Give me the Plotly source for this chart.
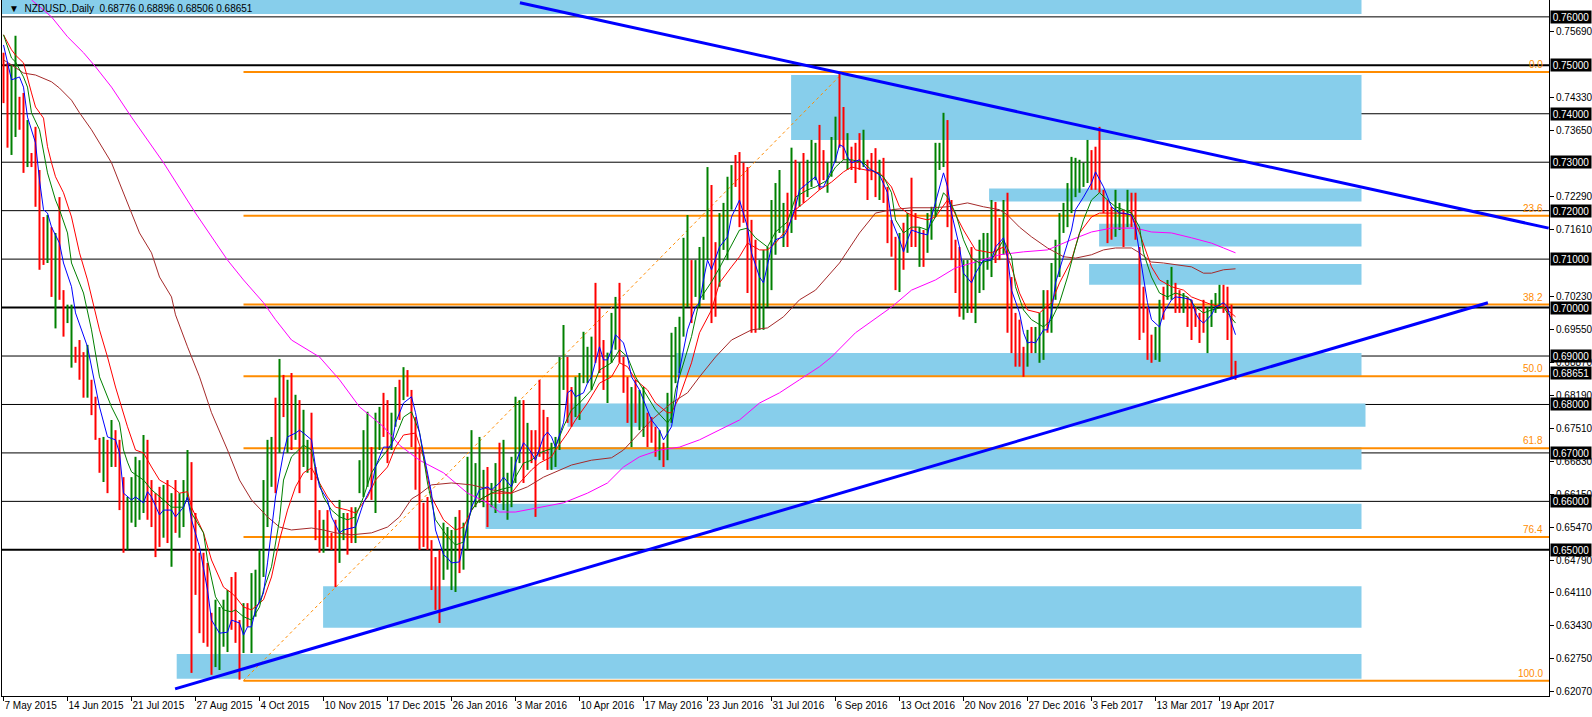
import plotly.graph_objects as go

# ---------------- data ----------------
date_labels = ["7 May 2015", "14 Jun 2015", "21 Jul 2015", "27 Aug 2015", "4 Oct 2015",
               "10 Nov 2015", "17 Dec 2015", "26 Jan 2016", "3 Mar 2016", "10 Apr 2016",
               "17 May 2016", "23 Jun 2016", "31 Jul 2016", "6 Sep 2016", "13 Oct 2016",
               "20 Nov 2016", "27 Dec 2016", "3 Feb 2017", "13 Mar 2017", "19 Apr 2017"]
bars_per_label = 16  # each plotted bar = 2 trading days

bar_high = [
    .7526, .7505, .7501, .7561, .7435, .7443, .7387, .7319, .7373, .7284,
    .7187, .7191, .7166, .7154, .7228, .7036, .7006, .7006, .6919, .6933,
    .6908, .6923, .6851, .6816, .6731, .6733, .6727, .6768, .6747, .6727,
    .6650, .6609, .6650, .6692, .6685, .6737, .6727, .6644, .6617, .6630,
    .6634, .6644, .6617, .6644, .6617, .6644, .6706, .6681, .6576, .6494,
    .6494, .6473, .6370, .6397, .6382, .6397, .6417, .6444, .6454, .6355,
    .6390, .6390, .6452, .6459, .6500, .6644, .6727, .6733, .6814, .6894,
    .6861, .6851, .6865, .6820, .6809, .6789, .6727, .6783, .6671, .6582,
    .6562, .6582, .6535, .6562, .6603, .6576, .6576, .6588, .6588, .6685,
    .6747, .6785, .6712, .6783, .6795, .6824, .6809, .6783, .6836, .6851,
    .6877, .6871, .6830, .6774, .6712, .6597, .6609, .6520, .6485, .6500,
    .6556, .6547, .6541, .6568, .6582, .6556, .6692, .6747, .6679, .6733,
    .6665, .6671, .6638, .6679, .6721, .6727, .6659, .6692, .6816, .6809,
    .6809, .6762, .6747, .6747, .6851, .6789, .6774, .6721, .6733, .6898,
    .6964, .6898, .6836, .6857, .6865, .6950, .6919, .6940, .7051, .7001,
    .6933, .6907, .6989, .7022, .7051, .6898, .6857, .6836, .6851, .6830,
    .6836, .6783, .6774, .6754, .6747, .6721, .6824, .6948, .6960, .6981,
    .7144, .7191, .7098, .7098, .7125, .7146, .7290, .7253, .7135, .7195,
    .7216, .7270, .7294, .7315, .7321, .7299, .7290, .7181, .7140, .7098,
    .7119, .7125, .7222, .7257, .7284, .7216, .7237, .7330, .7305, .7299,
    .7319, .7305, .7346, .7340, .7377, .7325, .7299, .7352, .7394, .7486,
    .7414, .7360, .7332, .7340, .7360, .7367, .7305, .7319, .7329, .7305,
    .7309, .7249, .7181, .7146, .7154, .7175, .7195, .7268, .7195, .7166,
    .7160, .7195, .7208, .7340, .7340, .7402, .7387, .7222, .7140, .7125,
    .7098, .7098, .7125, .7098, .7140, .7154, .7154, .7222, .7218, .7185,
    .7222, .7237, .7063, .6989, .6975, .6919, .6954, .6960, .6960, .6989,
    .7036, .7036, .7092, .7140, .7195, .7216, .7257, .7311, .7309, .7305,
    .7299, .7346, .7325, .7332, .7373, .7243, .7222, .7208, .7243, .7216,
    .7202, .7243, .7237, .7237, .7125, .7043, .7001, .6944, .6960, .7016,
    .7043, .7057, .7084, .7051, .7036, .7030, .7022, .7016, .7001, .6989,
    .7016, .7001, .7016, .7030, .7047, .7047, .7043, .7006, .6890]

bar_low = [
    .7422, .7330, .7315, .7352, .7367, .7278, .7290, .7290, .7208, .7078,
    .7088, .7092, .7022, .6957, .7016, .6940, .6968, .6876, .6886, .6851,
    .6814, .6814, .6778, .6727, .6659, .6640, .6617, .6671, .6671, .6582,
    .6494, .6500, .6556, .6547, .6562, .6576, .6562, .6547, .6485, .6506,
    .6525, .6514, .6465, .6535, .6525, .6547, .6603, .6246, .6407, .6328,
    .6308, .6300, .6242, .6258, .6252, .6300, .6289, .6335, .6308, .6232,
    .6287, .6341, .6287, .6362, .6390, .6444, .6547, .6630, .6617, .6700,
    .6774, .6700, .6706, .6727, .6617, .6671, .6659, .6644, .6520, .6494,
    .6494, .6506, .6500, .6423, .6473, .6520, .6490, .6514, .6514, .6617,
    .6609, .6630, .6603, .6576, .6706, .6733, .6679, .6706, .6754, .6768,
    .6809, .6816, .6712, .6624, .6500, .6506, .6500, .6417, .6376, .6349,
    .6438, .6459, .6417, .6413, .6452, .6459, .6500, .6582, .6588, .6597,
    .6588, .6547, .6588, .6576, .6597, .6582, .6562, .6588, .6638, .6679,
    .6638, .6665, .6679, .6568, .6692, .6685, .6665, .6665, .6671, .6706,
    .6830, .6762, .6754, .6774, .6768, .6844, .6844, .6830, .6886, .6865,
    .6830, .6803, .6886, .6913, .6886, .6824, .6762, .6712, .6762, .6747,
    .6733, .6712, .6721, .6692, .6685, .6671, .6685, .6762, .6844, .6865,
    .6940, .7001, .6968, .7022, .7001, .7016, .7098, .6968, .6981, .7043,
    .7119, .7098, .7202, .7249, .7166, .7175, .7030, .6948, .6948, .6954,
    .6954, .7001, .7036, .7109, .7154, .7125, .7125, .7154, .7181, .7208,
    .7216, .7228, .7249, .7263, .7243, .7263, .7237, .7270, .7299, .7330,
    .7305, .7284, .7284, .7257, .7284, .7290, .7222, .7263, .7228, .7222,
    .7216, .7133, .7105, .7036, .7032, .7078, .7113, .7125, .7125, .7084,
    .7084, .7113, .7140, .7187, .7284, .7290, .7166, .7098, .7030, .6981,
    .6975, .6989, .6989, .6968, .7030, .7036, .7078, .7063, .7092, .7098,
    .7109, .6948, .6906, .6878, .6878, .6857, .6878, .6906, .6906, .6886,
    .6892, .6948, .6948, .7016, .7063, .7154, .7166, .7195, .7228, .7237,
    .7249, .7257, .7243, .7243, .7237, .7195, .7133, .7140, .7146, .7160,
    .7125, .7166, .7166, .7140, .6933, .6948, .6892, .6886, .6892, .6888,
    .6975, .7016, .7016, .6989, .6989, .6989, .6960, .6933, .6960, .6927,
    .6948, .6906, .6960, .6989, .7001, .6989, .6933, .6855, .6851]

bar_dir = ("RRGGRRGRRR" "RGRGRRGGRR" "RGRRRGRGRR" "RGGGGGRRRR" "GRGRGGGRRR"
           "RRRGGGGRRR" "GRGGGGGGRG" "RGRGRGGRRR" "GRRRGGRRGG" "GGRGGRRGGR"
           "GRRRRRRRRR" "GGGGRGGGGG" "GRGGRGGGGG" "RGRRRRRGGG" "GRRGGGGGRR"
           "RGGGRRRGRG" "GRRRGRGGGG" "GGRGGGGRRG" "GGGRRRRRRG" "GGGGGGRGRG"
           "RGGGRRGGGR" "RGRRRGRRRG" "RRRRGRGRRG" "RGGGGGRRRR" "GGRGGGGGRR"
           "GRRRRRGRGG" "GRGGGGGGGG" "GGRRRRRRGG" "RGRRRRRRGG" "RGGRRGRRRR"
           "RGGGGRRRR")

ma_fast = [(0,.7542),(1,.7505),(2,.7470),(4,.7476),(5,.7455),(6,.7393),(7,.7367),(8,.7340),(9,.7263),(10,.7202),
    (11,.7195),(12,.7166),(14,.7133),(15,.7092),(17,.7043),(18,.6989),(21,.6919),(22,.6877),(24,.6795),(26,.6733),
    (28,.6727),(29,.6700),(30,.6617),(32,.6603),(33,.6609),(35,.6597),(36,.6620),(37,.6609),(39,.6572),(40,.6582),
    (42,.6582),(43,.6568),(45,.6588),(46,.6609),(47,.6562),(49,.6506),(51,.6417),(52,.6355),(54,.6328),(56,.6330),
    (57,.6355),(59,.6349),(60,.6324),(61,.6341),(62,.6341),(63,.6376),(65,.6411),(66,.6473),(67,.6541),(68,.6609),
    (70,.6700),(71,.6733),(73,.6741),(74,.6747),(75,.6741),(77,.6727),(78,.6671),(79,.6630),(81,.6603),(82,.6568),
    (84,.6535),(85,.6541),(87,.6545),(88,.6547),(90,.6597),(92,.6630),(93,.6671),(95,.6712),(97,.6712),(98,.6762),
    (100,.6803),(102,.6816),(103,.6783),(104,.6741),(107,.6617),(108,.6541),(110,.6490),(111,.6483),(112,.6473),(114,.6475),
    (116,.6547),(117,.6588),(119,.6624),(121,.6630),(122,.6624),(124,.6638),(125,.6650),(127,.6630),(128,.6679),(130,.6721),
    (131,.6712),(132,.6700),(133,.6685),(135,.6733),(136,.6743),(137,.6733),(138,.6712),(140,.6762),(141,.6824),(142,.6830),
    (143,.6816),(145,.6824),(146,.6844),(147,.6857),(149,.6919),(150,.6892),(151,.6892),(152,.6913),(153,.6944),(155,.6927),
    (156,.6898),(157,.6857),(159,.6830),(161,.6789),(162,.6768),(164,.6747),(165,.6727),(167,.6754),(168,.6803),(169,.6871),
    (171,.6954),(173,.7001),(174,.7010),(175,.7057),(176,.7098),(177,.7078),(179,.7125),(181,.7146),(182,.7187),(184,.7222),
    (186,.7166),(187,.7113),(189,.7063),(190,.7051),(192,.7125),(193,.7140),(195,.7146),(196,.7160),(198,.7208),(199,.7243),
    (201,.7257),(203,.7270),(204,.7249),(205,.7249),(207,.7284),(208,.7305),(209,.7336),(210,.7332),(211,.7311),(212,.7299),
    (214,.7305),(216,.7284),(217,.7284),(219,.7274),(221,.7237),(222,.7181),(224,.7140),(225,.7115),(226,.7140),(227,.7160),
    (229,.7154),(231,.7150),(232,.7187),(234,.7249),(235,.7278),(236,.7249),(237,.7195),(239,.7125),(240,.7071),(242,.7051),
    (243,.7071),(245,.7098),(247,.7098),(248,.7125),(250,.7144),(251,.7105),(252,.7036),(254,.6989),(255,.6948),(256,.6927),
    (257,.6929),(258,.6927),(260,.6954),(261,.6954),(262,.6989),(263,.7051),(265,.7105),(267,.7160),(268,.7202),(270,.7228),
    (272,.7257),(273,.7280),(275,.7249),(276,.7228),(277,.7208),(279,.7195),(280,.7195),(282,.7191),(283,.7166),(284,.7113),
    (285,.7057),(286,.7010),(287,.6975),(289,.6960),(290,.6989),(292,.7016),(293,.7022),(295,.7020),(297,.7016),(298,.6989),
    (299,.6975),(300,.6968),(302,.6985),(303,.7001),(305,.7010),(306,.7001),(307,.6968),(308,.6944)]

ma_mid = [(0,.7563),(1,.7538),(2,.7515),(3,.7507),(5,.7476),(6,.7455),(7,.7402),(9,.7367),(10,.7319),(11,.7278),
    (13,.7222),(14,.7202),(16,.7154),(17,.7092),(20,.7030),(22,.6954),(24,.6857),(27,.6795),(29,.6762),(30,.6706),
    (31,.6681),(32,.6661),(35,.6644),(37,.6624),(40,.6603),(42,.6588),(45,.6588),(46,.6609),(47,.6576),(50,.6535),
    (51,.6479),(53,.6403),(55,.6376),(57,.6372),(58,.6376),(60,.6362),(62,.6355),(64,.6382),(65,.6417),(67,.6465),
    (69,.6562),(70,.6644),(72,.6692),(75,.6716),(77,.6706),(78,.6665),(80,.6609),(82,.6582),(84,.6568),(86,.6562),
    (88,.6568),(90,.6609),(92,.6659),(94,.6685),(96,.6706),(98,.6733),(100,.6774),(102,.6785),(104,.6743),(106,.6638),
    (108,.6562),(111,.6527),(113,.6510),(115,.6516),(116,.6555),(117,.6582),(119,.6603),(122,.6617),(124,.6624),(127,.6630),
    (128,.6650),(130,.6679),(132,.6685),(134,.6700),(136,.6706),(138,.6712),(140,.6754),(142,.6789),(144,.6803),(147,.6830),
    (149,.6871),(152,.6886),(154,.6913),(156,.6898),(158,.6857),(161,.6816),(163,.6789),(166,.6762),(167,.6774),(168,.6830),
    (170,.6886),(172,.6940),(174,.7016),(177,.7053),(179,.7082),(182,.7129),(184,.7160),(186,.7164),(188,.7144),(191,.7125),
    (193,.7156),(196,.7177),(198,.7228),(201,.7243),(203,.7249),(206,.7263),(208,.7290),(210,.7305),(212,.7305),(215,.7299),
    (217,.7284),(220,.7270),(222,.7237),(223,.7181),(225,.7154),(227,.7166),(229,.7166),(231,.7160),(233,.7187),(235,.7237),
    (236,.7228),(238,.7195),(240,.7140),(242,.7102),(244,.7092),(247,.7098),(250,.7140),(252,.7105),(253,.7043),(255,.6995),
    (257,.6975),(260,.6960),(262,.6975),(264,.7010),(266,.7063),(268,.7125),(270,.7181),(272,.7222),(274,.7237),(276,.7222),
    (278,.7208),(280,.7202),(282,.7195),(284,.7166),(285,.7113),(287,.7063),(289,.7030),(291,.7022),(293,.7030),(296,.7022),
    (298,.7001),(300,.6989),(302,.6995),(305,.7001),(306,.6989),(308,.6968)]

ma_slow = [(0,.7563),(2,.7532),(3,.7521),(5,.7505),(7,.7443),(8,.7414),(10,.7391),(11,.7332),(12,.7299),(13,.7270),
    (15,.7237),(17,.7187),(19,.7113),(21,.7057),(24,.6954),(26,.6898),(28,.6836),(31,.6754),(33,.6706),(35,.6700),
    (37,.6671),(39,.6644),(42,.6630),(44,.6617),(46,.6620),(47,.6588),(50,.6535),(52,.6479),(55,.6423),(57,.6411),
    (58,.6403),(60,.6382),(62,.6376),(65,.6397),(67,.6444),(69,.6520),(71,.6582),(73,.6630),(75,.6659),(77,.6669),
    (79,.6638),(81,.6609),(83,.6588),(86,.6582),(88,.6576),(91,.6609),(93,.6644),(96,.6671),(98,.6712),(100,.6737),
    (103,.6741),(105,.6692),(107,.6609),(110,.6562),(113,.6541),(115,.6547),(117,.6582),(119,.6603),(122,.6617),(124,.6617),
    (127,.6617),(129,.6638),(132,.6665),(134,.6679),(137,.6692),(138,.6706),(141,.6741),(143,.6768),(146,.6803),(149,.6844),
    (152,.6857),(154,.6886),(156,.6878),(158,.6851),(161,.6830),(163,.6803),(166,.6783),(167,.6783),(169,.6816),(172,.6886),
    (174,.6948),(177,.6995),(179,.7051),(182,.7084),(184,.7105),(186,.7133),(189,.7119),(191,.7119),(193,.7133),(196,.7163),
    (198,.7202),(201,.7222),(204,.7243),(207,.7259),(210,.7280),(212,.7290),(216,.7284),(219,.7278),(222,.7249),(224,.7208),
    (226,.7195),(228,.7187),(231,.7181),(233,.7187),(236,.7222),(237,.7208),(240,.7160),(243,.7119),(247,.7113),(250,.7125),
    (252,.7084),(254,.7030),(256,.6995),(259,.6989),(262,.7010),(264,.7051),(267,.7098),(269,.7154),(272,.7187),(274,.7195),
    (277,.7195),(279,.7195),(282,.7191),(284,.7154),(287,.7084),(289,.7057),(292,.7043),(295,.7036),(297,.7022),(300,.7012),
    (302,.7006),(305,.7001),(306,.6995),(308,.6981)]

ma_100 = [(0,.7511),(2,.7501),(5,.7484),(8,.7480),(12,.7466),(14,.7453),(17,.7428),(19,.7402),(22,.7367),(24,.7340),
    (27,.7299),(29,.7257),(32,.7195),(34,.7154),(37,.7113),(39,.7063),(42,.7022),(43,.6985),(46,.6919),(49,.6857),
    (52,.6783),(56,.6706),(59,.6644),(62,.6603),(66,.6568),(69,.6547),(72,.6541),(77,.6545),(80,.6541),(83,.6535),
    (87,.6531),(92,.6535),(96,.6547),(99,.6568),(102,.6605),(104,.6615),(107,.6634),(112,.6638),(117,.6634),(122,.6624),
    (127,.6617),(131,.6630),(135,.6650),(139,.6665),(142,.6675),(147,.6685),(152,.6690),(155,.6706),(159,.6741),(162,.6768),
    (167,.6803),(171,.6824),(174,.6857),(178,.6898),(182,.6933),(187,.6954),(191,.6958),(195,.6981),(199,.7016),(203,.7036),
    (209,.7092),(214,.7154),(218,.7195),(222,.7202),(227,.7206),(232,.7206),(236,.7208),(241,.7216),(245,.7208),(249,.7202),
    (251,.7191),(254,.7166),(257,.7146),(261,.7123),(265,.7105),(268,.7102),(272,.7109),(275,.7119),(278,.7123),(282,.7123),
    (284,.7113),(287,.7094),(290,.7092),(293,.7088),(297,.7084),(300,.7071),(302,.7071),(305,.7078),(308,.7080)]

ma_200 = [(7,.7635),(12,.7600),(16,.7559),(20,.7526),(23,.7497),(27,.7455),(32,.7393),(40,.7299),(48,.7195),(56,.7098),
    (60,.7057),(65,.7010),(68,.6975),(72,.6933),(79,.6898),(84,.6851),(89,.6795),(95,.6754),(99,.6716),(104,.6685),
    (110,.6659),(116,.6617),(121,.6597),(124,.6578),(128,.6578),(134,.6588),(140,.6597),(146,.6617),(151,.6638),(155,.6671),
    (159,.6692),(164,.6706),(169,.6712),(174,.6727),(179,.6747),(184,.6768),(189,.6803),(194,.6824),(199,.6851),(204,.6878),
    (207,.6898),(213,.6948),(222,.7001),(227,.7036),(233,.7057),(238,.7082),(243,.7094),(249,.7109),(255,.7115),(261,.7119),
    (267,.7140),(272,.7156),(277,.7164),(283,.7164),(287,.7156),(292,.7154),(297,.7144),(302,.7133),(305,.7123),(308,.7113)]

round_levels = [0.76, 0.75, 0.74, 0.73, 0.72, 0.71, 0.70, 0.69, 0.68, 0.67, 0.66, 0.65]
major_levels = [0.75, 0.70, 0.65]
last_price = 0.68651
axis_ticks = [0.75690, 0.74330, 0.73650, 0.72290, 0.71610, 0.70230,
              0.69550, 0.68870, 0.68190, 0.67510, 0.66830, 0.66150, 0.65470, 0.64790, 0.64110,
              0.63430, 0.62750, 0.62070]

# supply/demand zones: (start bar, end bar, top price, bottom price)
zones = [(-0.375, 339.5, 0.7635, 0.7606), (196.9, 339.5, 0.7480, 0.7346), (246.4, 339.5, 0.7246, 0.7219),
         (273.9, 339.5, 0.7173, 0.7126), (271.4, 339.5, 0.7090, 0.7047), (167.9, 339.5, 0.6906, 0.6858),
         (141.0, 340.5, 0.6802, 0.6754), (136.4, 339.5, 0.6712, 0.6666), (120.5, 339.5, 0.6595, 0.6543),
         (79.9, 339.5, 0.6425, 0.6339), (43.3, 339.5, 0.6285, 0.6234)]

fib_low, fib_high = 0.6230, 0.7486
fib_low_bar, fib_high_bar = 60, 210
fib_pcts = [0.0, 23.6, 38.2, 50.0, 61.8, 76.4, 100.0]

# trendlines: (bar, price) anchors
upper_trend = [(129.1, 0.7629), (386.3, 0.7164)]
lower_trend = [(42.9, 0.6213), (371.1, 0.7010)]

header = "\u25BC  NZDUSD.,Daily  0.68776 0.68896 0.68506 0.68651"

# ---------------- figure ----------------
assert len(bar_high) == len(bar_low) == len(bar_dir)
X_MIN, X_MAX = -0.375, 386.375
Y_MIN, Y_MAX = 0.61983, 0.76348
FONT = "Liberation Sans, Arial, sans-serif"
ORANGE = "#FF8C00"

fig = go.Figure()

gx, gy, rx, ry = [], [], [], []
for i, (h, l, d) in enumerate(zip(bar_high, bar_low, bar_dir)):
    if d == "G":
        gx += [i, i, None]; gy += [l, h, None]
    else:
        rx += [i, i, None]; ry += [l, h, None]
fig.add_trace(go.Scatter(x=gx, y=gy, mode="lines", line=dict(color="#008000", width=2), hoverinfo="skip"))
fig.add_trace(go.Scatter(x=rx, y=ry, mode="lines", line=dict(color="#FF0000", width=2), hoverinfo="skip"))

for series, color in [(ma_200, "#FF00FF"), (ma_100, "#A52A2A"), (ma_slow, "#FF0000"),
                      (ma_mid, "#008000"), (ma_fast, "#0000FF")]:
    fig.add_trace(go.Scatter(x=[p[0] for p in series], y=[p[1] for p in series], mode="lines",
                             line=dict(color=color, width=1), hoverinfo="skip"))

shapes = []
for x0, x1, top, bot in zones:
    shapes.append(dict(type="rect", xref="x", yref="y", x0=x0, x1=x1, y0=bot, y1=top,
                       fillcolor="#87CEEB", line=dict(width=0), layer="below"))
for lvl in round_levels:
    shapes.append(dict(type="line", xref="paper", yref="y", x0=0, x1=1, y0=lvl, y1=lvl,
                       line=dict(color="black", width=2 if lvl in major_levels else 1), layer="below"))
for pct in fib_pcts:
    lvl = fib_high - (fib_high - fib_low) * pct / 100.0
    shapes.append(dict(type="line", xref="x", yref="y", x0=fib_low_bar, x1=X_MAX, y0=lvl, y1=lvl,
                       line=dict(color=ORANGE, width=2), layer="below"))
shapes.append(dict(type="line", xref="x", yref="y", x0=fib_low_bar, x1=fib_high_bar, y0=fib_low, y1=fib_high,
                   line=dict(color=ORANGE, width=1, dash="dot"), layer="below"))
for (xa, ya), (xb, yb) in [upper_trend, lower_trend]:
    shapes.append(dict(type="line", xref="x", yref="y", x0=xa, x1=xb, y0=ya, y1=yb,
                       line=dict(color="#0000FF", width=3), layer="above"))

annotations = []
for pct in fib_pcts:
    lvl = fib_high - (fib_high - fib_low) * pct / 100.0
    annotations.append(dict(xref="paper", x=1, xanchor="right", xshift=-4, yref="y", y=lvl, yanchor="bottom",
                            text=f"{pct:.1f}", showarrow=False, font=dict(color=ORANGE, size=10, family=FONT)))
for lvl in round_levels + [last_price]:
    annotations.append(dict(xref="paper", x=1, xanchor="left", xshift=1, yref="y", y=lvl, yanchor="middle",
                            text=f"{lvl:.5f}", showarrow=False, bgcolor="black", width=40, height=12,
                            borderpad=0, font=dict(color="white", size=10, family=FONT)))
annotations.append(dict(xref="paper", x=0, xanchor="left", xshift=5, yref="paper", y=1, yanchor="top", yshift=-1,
                        text=header, showarrow=False, font=dict(color="black", size=10, family=FONT)))

fig.update_layout(
    width=1592, height=717, margin=dict(l=2, r=43, t=0, b=21),
    paper_bgcolor="white", plot_bgcolor="white", showlegend=False,
    font=dict(family=FONT, size=10, color="black"),
    shapes=shapes, annotations=annotations,
    xaxis=dict(range=[X_MIN, X_MAX], tickvals=[i * bars_per_label for i in range(len(date_labels))],
               ticktext=date_labels, ticks="outside", ticklen=4, tickcolor="black", tickangle=0,
               ticklabelposition="outside right", showline=True, linecolor="black", linewidth=1,
               showgrid=False, zeroline=False, tickfont=dict(size=10, family=FONT, color="black")),
    yaxis=dict(range=[Y_MIN, Y_MAX], side="right", tickvals=axis_ticks,
               ticktext=[f"{v:.5f}" for v in axis_ticks], ticks="outside", ticklen=4, tickcolor="black",
               showline=True, mirror=True, linecolor="black", linewidth=1, showgrid=False, zeroline=False,
               tickfont=dict(size=10, family=FONT, color="black")),
)

fig.write_html("out.html", config={"displayModeBar": False},
               post_script="document.body.style.margin='0';document.body.style.overflow='hidden';")
